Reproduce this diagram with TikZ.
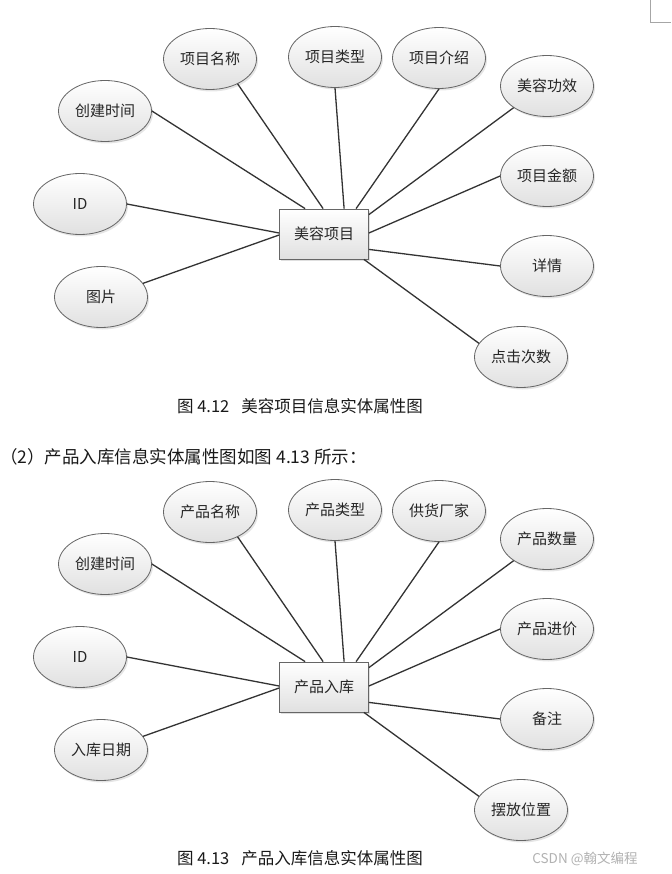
\documentclass[tikz,border=0pt]{standalone}
\usepackage{fontspec}
\newfontfamily\cjk{Noto Sans CJK SC}
\usetikzlibrary{shadows,shapes.geometric,calc}
\begin{document}
\begin{tikzpicture}[x=1pt,y=-1pt,
 attr/.style={ellipse, draw=black!60, line width=0.8pt, top color=white, bottom color=black!12,
   drop shadow={opacity=0.2,shadow xshift=1.5pt,shadow yshift=-2pt},
   minimum width=93pt, minimum height=61pt, inner sep=0pt,
   font=\cjk\fontsize{15pt}{15pt}\selectfont, text=black!85},
 ent/.style={rectangle, draw=black!60, line width=0.8pt, top color=white, bottom color=black!12,
   drop shadow={opacity=0.25,shadow xshift=1.5pt,shadow yshift=-2pt},
   minimum width=89pt, minimum height=50pt, inner sep=0pt,
   font=\cjk\fontsize{15pt}{15pt}\selectfont, text=black!85},
 link/.style={draw=black!80, line width=1.3pt},
 captext/.style={font=\cjk\fontsize{16.5pt}{17pt}\selectfont, text=black!90, inner sep=0pt}]
\useasboundingbox (0,0) rectangle (671,874);
\fill[white] (0,0) rectangle (671,874);
\draw[black!35, line width=0.6pt] (650,0) -- (650,22) -- (671,22);

% ---------- diagram 1 ----------
\node[ent] (e1) at (324,234) {美容项目};
\node[attr] (a1) at (105,111) {创建时间};
\node[attr] (a2) at (210,59) {项目名称};
\node[attr] (a3) at (335,57) {项目类型};
\node[attr] (a4) at (439,58) {项目介绍};
\node[attr] (a5) at (547,86) {美容功效};
\node[attr] (a6) at (547,176) {项目金额};
\node[attr] (a7) at (547,266) {详情};
\node[attr] (a8) at (521,357) {点击次数};
\node[attr] (a9) at (80,204) {ID};
\node[attr] (a10) at (101,297) {图片};
\coordinate (p1) at ($(e1.north west)+(26pt,0)$);
\coordinate (p2) at ($(e1.north west)+(44pt,0)$);
\coordinate (p3) at ($(e1.north west)+(65pt,0)$);
\coordinate (p4) at ($(e1.north west)+(77pt,0)$);
\coordinate (p5) at ($(e1.north east)+(0,-6pt)$);
\coordinate (p6) at ($(e1.east)+(0,1pt)$);
\coordinate (p7) at ($(e1.south east)+(0,10pt)$);
\coordinate (p8) at ($(e1.south east)+(-5pt,0)$);
\coordinate (p9) at ($(e1.west)+(0,1pt)$);
\coordinate (p10) at ($(e1.west)+(0,-1pt)$);
\draw[link] (a1.0) -- (p1);
\draw[link] (a2.-42) -- (p2);
\draw[link] (a3.270) -- (p3);
\draw[link] (a4.270) -- (p4);
\draw[link] (a5.-147) -- (p5);
\draw[link] (a6.180) -- (p6);
\draw[link] (a7.180) -- (p7);
\draw[link] (a8.162) -- (p8);
\draw[link] (a9.0) -- (p9);
\draw[link] (a10.18) -- (p10);
\node[captext] (c1) at (300,406) {图~4.12\hspace{12pt}美容项目信息实体属性图};

\node[captext, anchor=west, font=\cjk\fontsize{17.5pt}{18pt}\selectfont] (t2) at (0,457) {（2）产品入库信息实体属性图如图~4.13~所示：};

% ---------- diagram 2 ----------
\node[ent] (f1) at (324,687) {产品入库};
\node[attr] (b1) at (105,564) {创建时间};
\node[attr] (b2) at (210,512) {产品名称};
\node[attr] (b3) at (335,510) {产品类型};
\node[attr] (b4) at (439,511) {供货厂家};
\node[attr] (b5) at (547,539) {产品数量};
\node[attr] (b6) at (547,629) {产品进价};
\node[attr] (b7) at (547,719) {备注};
\node[attr] (b8) at (521,810) {摆放位置};
\node[attr] (b9) at (80,657) {ID};
\node[attr] (b10) at (101,750) {入库日期};
\coordinate (q1) at ($(f1.north west)+(26pt,0)$);
\coordinate (q2) at ($(f1.north west)+(44pt,0)$);
\coordinate (q3) at ($(f1.north west)+(65pt,0)$);
\coordinate (q4) at ($(f1.north west)+(77pt,0)$);
\coordinate (q5) at ($(f1.north east)+(0,-6pt)$);
\coordinate (q6) at ($(f1.east)+(0,1pt)$);
\coordinate (q7) at ($(f1.south east)+(0,10pt)$);
\coordinate (q8) at ($(f1.south east)+(-5pt,0)$);
\coordinate (q9) at ($(f1.west)+(0,1pt)$);
\coordinate (q10) at ($(f1.west)+(0,-1pt)$);
\draw[link] (b1.0) -- (q1);
\draw[link] (b2.-42) -- (q2);
\draw[link] (b3.270) -- (q3);
\draw[link] (b4.270) -- (q4);
\draw[link] (b5.-147) -- (q5);
\draw[link] (b6.180) -- (q6);
\draw[link] (b7.180) -- (q7);
\draw[link] (b8.162) -- (q8);
\draw[link] (b9.0) -- (q9);
\draw[link] (b10.18) -- (q10);
\node[captext] (c2) at (300,858) {图~4.13\hspace{12pt}产品入库信息实体属性图};
\node[font=\cjk\fontsize{13.5pt}{14pt}\selectfont, text=black!30, inner sep=0pt] (wm) at (585,859) {CSDN @翰文编程};
\end{tikzpicture}
\end{document}
